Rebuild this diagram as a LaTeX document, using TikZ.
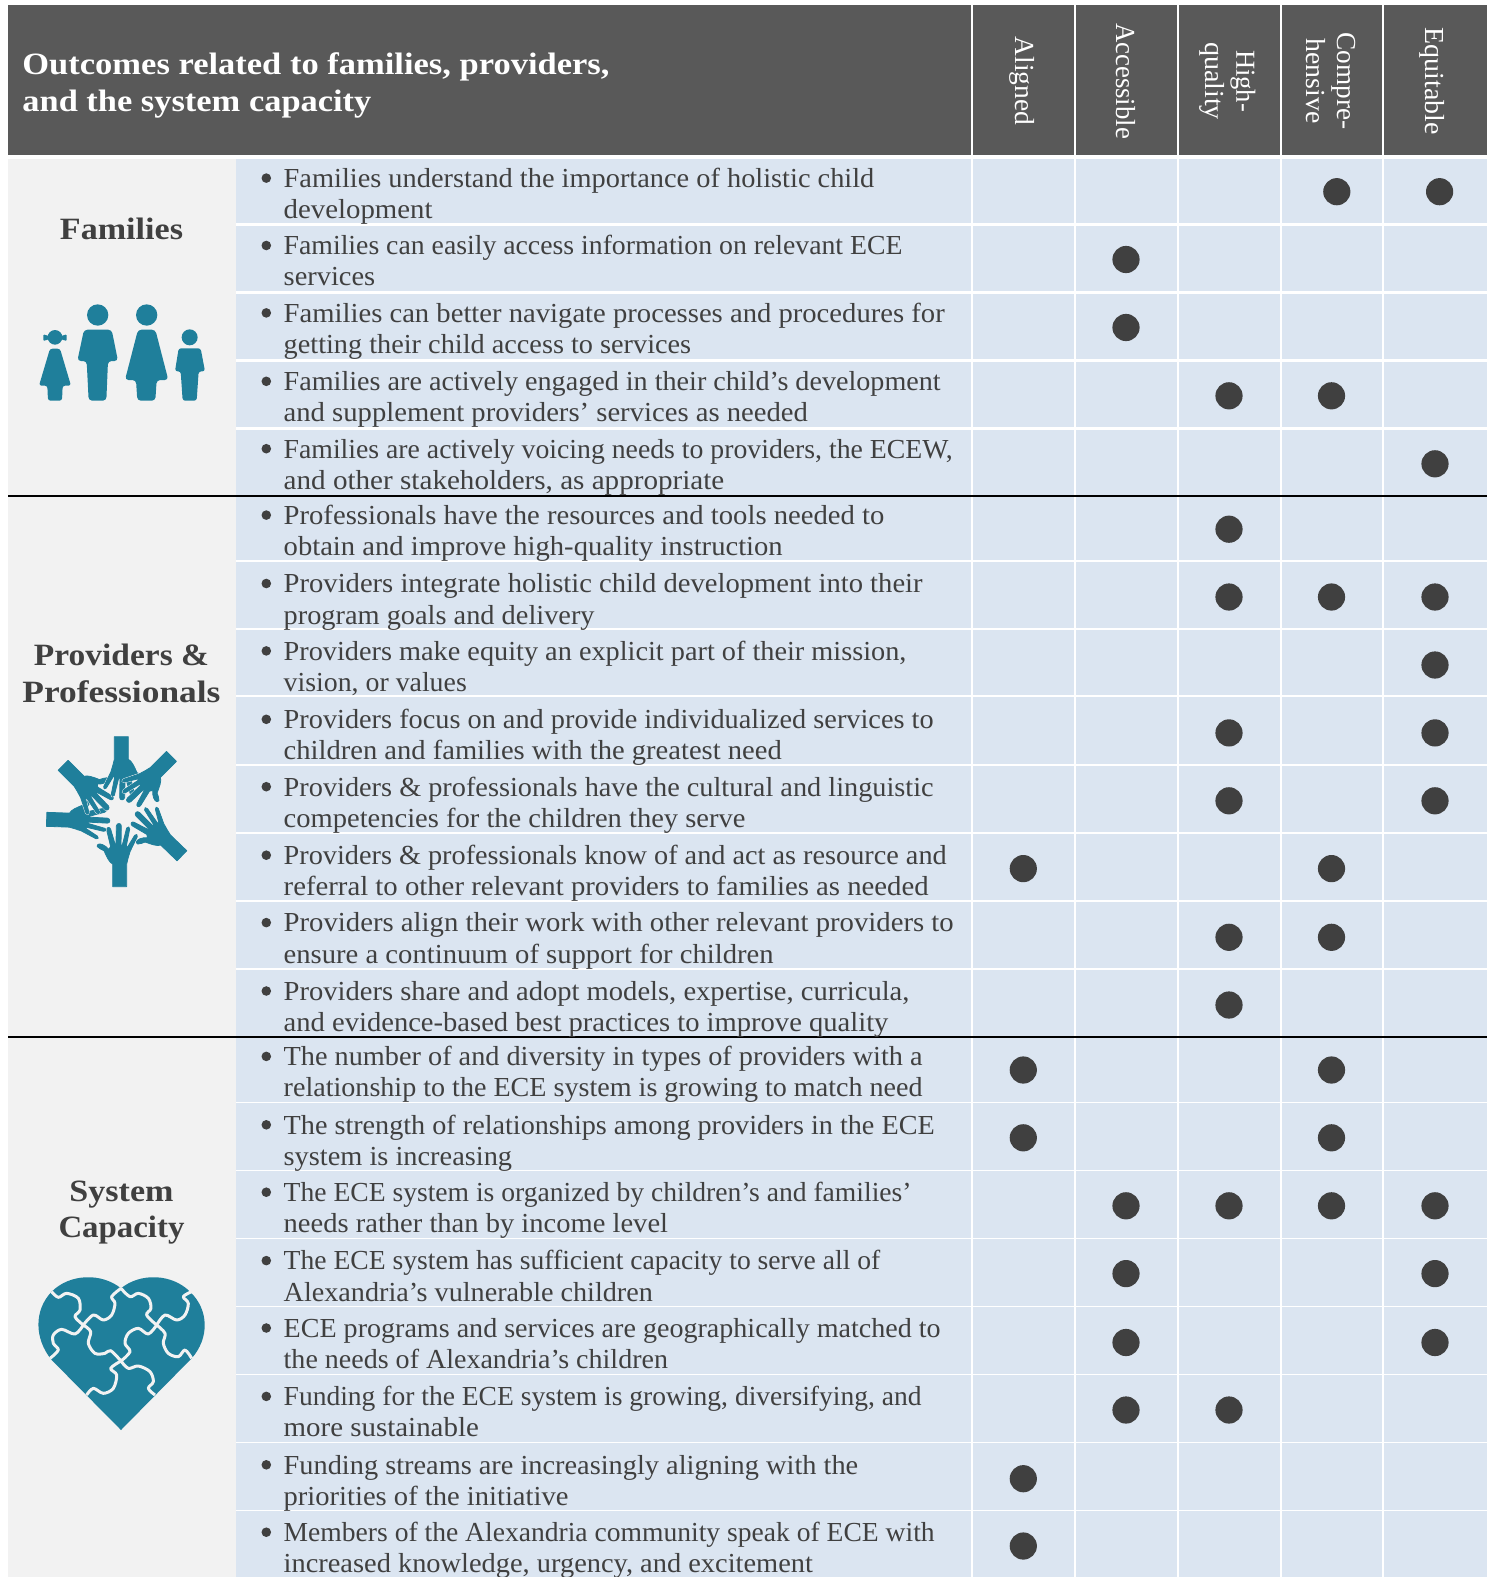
\documentclass[tikz,border=0pt]{standalone}
\usepackage{fontspec}
\usepackage{graphicx}
\setmainfont{Liberation Serif}
\definecolor{headc}{HTML}{595959}
\definecolor{grayc}{HTML}{F2F2F2}
\definecolor{bluec}{HTML}{DBE5F1}
\definecolor{tealc}{HTML}{1F7F9B}
\definecolor{inkc}{HTML}{404040}
\newcommand{\bodyfont}{\fontsize{27.5}{31}\selectfont}
\newcommand{\headfont}{\fontsize{31}{37}\selectfont\bfseries}
\newcommand{\rotfont}{\fontsize{27.5}{33}\selectfont}
% one text line: name, baseline y, right end in px, text
\newcommand{\txtline}[4]{%
  \pgfmathsetmacro{\lnw}{#3*1.00606-283.7}%
  \node[bodytext] (#1) at (283.7,#2) {\resizebox{\lnw pt}{\height}{#4}};}
\newcommand{\outcome}[7]{% name, y1, y2, end1, text1, end2, text2
  \fill[inkc] (266.3,#2-9.3) circle (4.8);
  \txtline{#1a}{#2}{#4}{#5}
  \txtline{#1b}{#3}{#6}{#7}}
\newcommand{\handpath}{%
    (-20,0) -- (-20,-68) .. controls (-30,-72) and (-38,-90) .. (-46,-108)
    .. controls (-52,-112) and (-62,-114) .. (-66,-120)
    .. controls (-68,-128) and (-60,-130) .. (-50,-126)
    .. controls (-42,-122) and (-36,-118) .. (-32,-112)
    -- (-26,-120) -- (-38,-170) .. controls (-38,-180) and (-28,-180) .. (-26,-172)
    -- (-12,-125) -- (-10,-125) -- (-9,-182) .. controls (-8,-192) and (6,-192) .. (6,-182)
    -- (5,-125) -- (9,-125) -- (22,-176) .. controls (25,-182) and (33,-180) .. (31,-172)
    -- (21,-122) -- (24,-118) -- (46,-154) .. controls (50,-160) and (56,-156) .. (54,-150)
    -- (32,-105) .. controls (28,-90) and (24,-80) .. (22,-68) -- (22,0) -- cycle}
\newcommand{\handshape}[3]{%
  \begin{scope}[shift={(#1,#2)},rotate=#3]
  \draw[draw=grayc,line width=1.7pt,line join=round] \handpath;
  \filldraw[fill=tealc,draw=tealc,line width=.8pt,line join=round] \handpath;
  \end{scope}}
\tikzset{
  bodytext/.style={anchor=base west,inner sep=0pt,outer sep=0pt,text=inkc,font=\bodyfont},
  labeltext/.style={anchor=base,inner sep=0pt,outer sep=0pt,text=inkc,font=\headfont},
  headtext/.style={anchor=base west,inner sep=0pt,outer sep=0pt,text=white,font=\headfont},
  rottext/.style={rotate=-90,anchor=center,inner sep=0pt,outer sep=0pt,text=white,font=\rotfont,align=center},
  dotmark/.style={fill=inkc},
  whitegap/.style={draw=white},
  blackrule/.style={draw=black,line width=2.2pt},
  puzzle/.style={draw=grayc,line width=3pt,line join=round}
}
\begin{document}
\begin{tikzpicture}[x=1pt,y=-1pt]
\useasboundingbox (0,0) rectangle (1493,1577);
\fill[white] (0,0) rectangle (1493,1577);
\fill[headc] (8,5) rectangle (1487,155);
\fill[grayc] (8,159) rectangle (236,1577);
\fill[bluec] (236,159) rectangle (1487,1577);
% column gaps
\foreach \gx in {972,1075,1177.8,1281,1382.8}
  \draw[whitegap,line width=2pt] (\gx,0) -- (\gx,1577);
% row gaps
\foreach \gy in {224.4,292.5,360.7,428.4}
  \draw[whitegap,line width=3.2pt] (236,\gy) -- (1487,\gy);
\foreach \gy in {561,628.6,696.4,764.6,832.9,900.7,968.6}
  \draw[whitegap,line width=2pt] (236,\gy) -- (1487,\gy);
\foreach \gy in {1102.3,1170.3,1238.2,1306.2,1374.3,1442.2,1510.3}
  \draw[whitegap,line width=1.2pt] (236,\gy) -- (1487,\gy);
\draw[blackrule] (8,496.2) -- (1487,496.2);
\draw[blackrule] (8,1036.8) -- (1487,1036.8);
% header
\node[headtext] (title1) at (22.4,74) {\resizebox{587pt}{\height}{Outcomes related to families, providers,}};
\node[headtext] (title2) at (22.4,111) {\resizebox{349pt}{\height}{and the system capacity}};
\node[rottext] (hAligned) at (1022,81) {Aligned};
\node[rottext] (hAccessible) at (1126,81) {\resizebox{116pt}{\height}{Accessible}};
\node[rottext] (hHigh) at (1227.5,81) {\resizebox{62pt}{\height}{High-}\\[-2pt]\resizebox{78pt}{\height}{quality}};
\node[rottext] (hCompre) at (1331,81) {\resizebox{97pt}{\height}{Compre-}\\[-2pt]\resizebox{85pt}{\height}{hensive}};
\node[rottext] (hEquitable) at (1432,81) {\resizebox{107pt}{\height}{Equitable}};
% left labels
\node[labeltext] (lFamilies) at (121.5,239) {\resizebox{123pt}{\height}{Families}};
\node[labeltext] (lProviders) at (121.5,665) {\resizebox{175pt}{\height}{Providers \&}};
\node[labeltext] (lProfessionals) at (121.5,702.5) {\resizebox{198pt}{\height}{Professionals}};
\node[labeltext] (lSystem) at (121.5,1201) {\resizebox{104pt}{\height}{System}};
\node[labeltext] (lCapacity) at (121.5,1237.5) {\resizebox{126pt}{\height}{Capacity}};
% families
\outcome{r1}{187.4}{218.6}{869}{Families understand the importance of holistic child}{430}{development}
\outcome{r2}{254.8}{285.6}{897}{Families can easily access information on relevant ECE}{373}{services}
\outcome{r3}{322.2}{353.4}{939}{Families can better navigate processes and procedures for}{687}{getting their child access to services}
\outcome{r4}{390.6}{421.8}{935}{Families are actively engaged in their child’s development}{803}{and supplement providers’ services as needed}
\outcome{r5}{458}{489.2}{947}{Families are actively voicing needs to providers, the ECEW,}{720}{and other stakeholders, as appropriate}
% providers
\outcome{r6}{524.4}{555.6}{879}{Professionals have the resources and tools needed to}{778}{obtain and improve high-quality instruction}
\outcome{r7}{592.8}{624}{917}{Providers integrate holistic child development into their}{591}{program goals and delivery}
\outcome{r8}{660.2}{691.4}{901}{Providers make equity an explicit part of their mission,}{464}{vision, or values}
\outcome{r9}{728.6}{759.8}{928}{Providers focus on and provide individualized services to}{777}{children and families with the greatest need}
\outcome{r10}{796}{827.2}{928}{Providers \& professionals have the cultural and linguistic}{741}{competencies for the children they serve}
\outcome{r11}{864.5}{895.6}{941}{Providers \& professionals know of and act as resource and}{923}{referral to other relevant providers to families as needed}
\outcome{r12}{931.9}{963}{948}{Providers align their work with other relevant providers to}{769}{ensure a continuum of support for children}
\outcome{r13}{1000.3}{1031.5}{904}{Providers share and adopt models, expertise, curricula,}{883}{and evidence-based best practices to improve quality}
% system
\outcome{r14}{1065.7}{1096.9}{917}{The number of and diversity in types of providers with a}{917}{relationship to the ECE system is growing to match need}
\outcome{r15}{1134.1}{1165.3}{929}{The strength of relationships among providers in the ECE}{509}{system is increasing}
\outcome{r16}{1201.5}{1232.7}{906}{The ECE system is organized by children’s and families’}{664}{needs rather than by income level}
\outcome{r17}{1269.9}{1301.1}{875}{The ECE system has sufficient capacity to serve all of}{649}{Alexandria’s vulnerable children}
\outcome{r18}{1337.3}{1368.5}{935}{ECE programs and services are geographically matched to}{664}{the needs of Alexandria’s children}
\outcome{r19}{1405.7}{1436.9}{916}{Funding for the ECE system is growing, diversifying, and}{476}{more sustainable}
\outcome{r20}{1474.1}{1505.3}{853}{Funding streams are increasingly aligning with the}{565}{priorities of the initiative}
\outcome{r21}{1541.5}{1572.7}{929}{Members of the Alexandria community speak of ECE with}{808}{increased knowledge, urgency, and excitement}
% dots
\foreach \dx/\dy in {1336.8/191.7,1439.6/191.7,
  1126/259.5,1126/327.5,1229/395.8,1331.5/395.8,1435/463.8,
  1229/529.2,1229/597,1331.5/597,1435/597,1435/665,
  1229/732.9,1435/732.9,1229/800.8,1435/800.8,
  1023.3/868.6,1331.5/868.6,1229/937.3,1331.5/937.3,1229/1005,
  1023.3/1070,1331.5/1070,1023.3/1137.8,1331.5/1137.8,
  1126/1205.8,1229/1205.8,1331.5/1205.8,1435/1205.8,
  1126/1273.6,1435/1273.6,1126/1342.5,1435/1342.5,1126/1410,1229/1410,
  1023.3/1478.7,1023.3/1546}
  \fill[dotmark] (\dx,\dy) circle (13.6);
% family icon
\begin{scope}[shift={(0,280)},x=.33333pt,y=-.33333pt,tealc]
  \fill (165,172) circle (22);
  \fill[rounded corners=1pt] (130,163) -- (146,168) -- (184,168) -- (200,163) -- (200,183) -- (184,178) -- (146,178) -- (130,183) -- cycle;
  \fill[rounded corners=2.5pt] (150,206) -- (180,206) -- (213,317) -- (188,317) -- (186,362) -- (144,362) -- (142,317) -- (117,317) -- cycle;
  \fill (293,105) circle (32);
  \fill[rounded corners=3.5pt] (252,149) -- (335,149) -- (354,243) -- (324,243) -- (319,362) -- (266,362) -- (260,243) -- (232,243) -- cycle;
  \fill (440,105) circle (32);
  \fill[rounded corners=3.5pt] (414,149) -- (466,149) -- (505,300) -- (470,300) -- (466,362) -- (412,362) -- (408,300) -- (375,300) -- cycle;
  \fill (569,172) circle (24);
  \fill[rounded corners=2.5pt] (536,205) -- (602,205) -- (615,274) -- (596,274) -- (590,362) -- (548,362) -- (542,274) -- (525,274) -- cycle;
\end{scope}
% hands icon
\begin{scope}[shift={(20,720)},x=.33333pt,y=-.33333pt]
  \handshape{298}{500}{0}
  \handshape{485}{408}{46}
  \handshape{80}{297}{-92}
  \handshape{130}{135}{-135}
  \handshape{305}{50}{180}
  \handshape{455}{110}{135}
\end{scope}
% heart icon
\begin{scope}[shift={(20,1260)},x=.33333pt,y=-.33333pt]
  \fill[tealc] (303,510) -- (95,300) .. controls (42,235) and (42,150) .. (95,95)
    .. controls (150,40) and (245,38) .. (303,85)
    .. controls (360,38) and (455,40) .. (510,95)
    .. controls (568,150) and (568,235) .. (515,295) -- cycle;
  \draw[puzzle] plot[smooth,tension=.55] coordinates {(95,95) (115,112) (140,100) (175,115) (180,150) (165,170) (190,195)};
  \draw[puzzle] plot[smooth,tension=.55] coordinates {(190,195) (212,215) (205,250) (225,280) (255,280) (272,272) (303,303)};
  \draw[puzzle] plot[smooth,tension=.55] coordinates {(303,303) (325,325) (355,318) (390,335) (400,365) (385,385) (405,405)};
  \draw[puzzle] plot[smooth,tension=.55] coordinates {(303,85) (330,110) (355,100) (385,115) (393,145) (380,165) (410,195)};
  \draw[puzzle] plot[smooth,tension=.55] coordinates {(410,195) (435,220) (430,250) (445,280) (475,290) (495,270) (515,295)};
  \draw[puzzle] plot[smooth,tension=.55] coordinates {(90,295) (115,270) (100,250) (100,225) (125,208) (165,222) (190,195)};
  \draw[puzzle] plot[smooth,tension=.55] coordinates {(190,195) (220,165) (250,180) (275,165) (285,130) (275,110) (303,85)};
  \draw[puzzle] plot[smooth,tension=.55] coordinates {(200,405) (220,385) (250,400) (280,385) (290,345) (272,325) (303,303)};
  \draw[puzzle] plot[smooth,tension=.55] coordinates {(303,303) (330,275) (315,250) (325,220) (355,205) (385,222) (410,195)};
  \draw[puzzle] plot[smooth,tension=.55] coordinates {(410,195) (435,165) (470,180) (495,165) (505,130) (490,110) (515,95)};
\end{scope}
\end{tikzpicture}
\end{document}
